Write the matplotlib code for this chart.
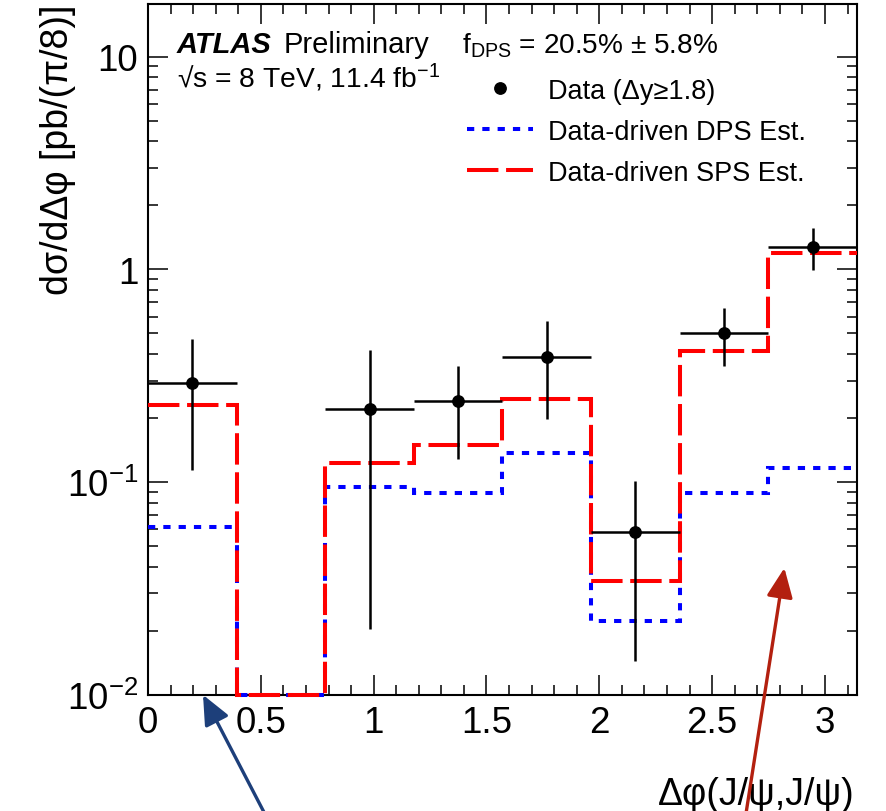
import numpy as np
import matplotlib
matplotlib.use("Agg")
import matplotlib.pyplot as plt
from matplotlib.ticker import MultipleLocator, LogLocator, FuncFormatter, NullFormatter
from matplotlib.lines import Line2D

plt.rcParams['font.family'] = ['Liberation Sans', 'DejaVu Sans']
plt.rcParams['mathtext.fontset'] = 'custom'
plt.rcParams['mathtext.rm'] = 'Liberation Sans'
plt.rcParams['mathtext.it'] = 'Liberation Sans:italic'
plt.rcParams['mathtext.bf'] = 'Liberation Sans:bold'

# ---- data ----
n_bins = 8
bin_edges = np.linspace(0, np.pi, n_bins + 1)
data_vals = [0.293, np.nan, 0.220, 0.240, 0.386, 0.0582, 0.504, 1.28]
data_up = [0.469, np.nan, 0.416, 0.351, 0.571, 0.101, 0.656, 1.57]
data_dn = [0.114, np.nan, 0.0203, 0.129, 0.199, 0.0144, 0.351, 0.99]
dps_vals = [0.0615, 0.01, 0.0948, 0.0885, 0.1374, 0.0222, 0.0892, 0.117]
sps_vals = [0.230, 0.01, 0.1234, 0.149, 0.2466, 0.0344, 0.413, 1.19]
y_ticks = [0.01, 0.1, 1, 10]
y_tick_labels = ['10$^{-2}$', '10$^{-1}$', '1', '10']

centers = 0.5 * (bin_edges[:-1] + bin_edges[1:])
halfw = 0.5 * np.diff(bin_edges)
dv = np.array(data_vals)
yerr = [dv - np.array(data_dn), np.array(data_up) - dv]

fig = plt.figure(figsize=(8.86, 8.12), dpi=100)
ax = fig.add_axes([0.167, 0.143, 0.8002, 0.851])
ax.set_yscale('log')
ax.set_xlim(0, np.pi)
ax.set_ylim(0.01, 17.7)

lw = 2.9
ax.stairs(dps_vals, bin_edges, baseline=None, color='#0000ff', lw=lw,
          linestyle=(0, (1.8, 2.0)), clip_on=False, zorder=3)
ax.stairs(sps_vals, bin_edges, baseline=None, color='#ff0000', lw=lw,
          linestyle=(0, (7.8, 1.9)), clip_on=False, zorder=4)
ax.errorbar(centers, dv, yerr=yerr, xerr=halfw, fmt='o', color='black',
            ms=8.2, elinewidth=1.8, capsize=0, zorder=5)

# ticks
ax.xaxis.set_major_locator(MultipleLocator(0.5))
ax.xaxis.set_minor_locator(MultipleLocator(0.1))
ax.xaxis.set_major_formatter(FuncFormatter(lambda v, p: '%g' % v))
ax.set_yticks(y_ticks)
ax.set_yticklabels(y_tick_labels)
ax.yaxis.set_minor_locator(LogLocator(base=10, subs=np.arange(2, 10)))
ax.yaxis.set_minor_formatter(NullFormatter())
ax.tick_params(which='both', direction='in', top=True, right=True, width=1.1)
ax.tick_params(which='major', length=14.5, labelsize=26.5)
ax.tick_params(axis='x', which='major', pad=7)
ax.tick_params(axis='y', which='major', pad=7)
ax.tick_params(which='minor', length=7.2)
for s in ax.spines.values():
    s.set_linewidth(1.5)

ax.set_ylabel('dσ/dΔφ [pb/(π/8)]', fontsize=27, loc='top')
ax.yaxis.set_label_coords(-0.101, 1.0)
ax.set_xlabel('Δφ(J/ψ,J/ψ)', fontsize=27, loc='right')
ax.xaxis.set_label_coords(0.997, -0.117)

# texts
ax.text(0.041, 0.930, 'ATLAS', transform=ax.transAxes, fontsize=21,
        fontweight='bold', fontstyle='italic', va='baseline')
ax.text(0.192, 0.930, 'Preliminary', transform=ax.transAxes, fontsize=21,
        va='baseline')
ax.text(0.041, 0.880, '√s = 8 TeV, 11.4 fb$^{-1}$', transform=ax.transAxes,
        fontsize=20.3, va='baseline')
ax.text(0.443, 0.930, 'f$_{\\mathrm{DPS}}$ = 20.5% ± 5.8%', transform=ax.transAxes,
        fontsize=20.2, va='baseline')

handles = [
    Line2D([], [], color='black', marker='o', ms=8.2, linestyle='none'),
    Line2D([], [], color='#0000ff', lw=lw, linestyle=(0, (1.8, 2.0))),
    Line2D([], [], color='#ff0000', lw=lw, linestyle=(0, (7.8, 1.9))),
]
labels = ['Data (Δy≥1.8)', 'Data-driven DPS Est.', 'Data-driven SPS Est.']
ax.legend(handles, labels, loc='upper left', bbox_to_anchor=(0.450, 0.893),
          frameon=False, fontsize=19.5, handlelength=2.45, handletextpad=0.55,
          labelspacing=0.55, borderpad=0, borderaxespad=0)

# annotation arrows
ax.annotate('', xy=(0.244, 0.01), xycoords='data',
            xytext=(0.302, -0.01), textcoords='figure fraction',
            arrowprops=dict(arrowstyle='-|>,head_length=0.9,head_width=0.4',
                            color='#1d3f7a', lw=2.4, mutation_scale=20,
                            shrinkA=0, shrinkB=0),
            annotation_clip=False, zorder=10)
ax.annotate('', xy=(2.82, 0.0395), xycoords='data',
            xytext=(0.841, -0.01), textcoords='figure fraction',
            arrowprops=dict(arrowstyle='-|>,head_length=0.9,head_width=0.4',
                            color='#b3200f', lw=2.4, mutation_scale=20,
                            shrinkA=0, shrinkB=0),
            annotation_clip=False, zorder=10)

fig.savefig('out.png', dpi=100)
